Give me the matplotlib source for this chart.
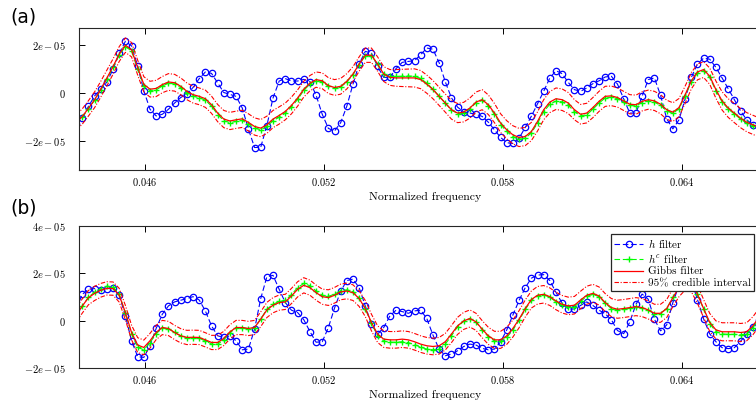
"""
Two-panel comparison of filter estimates vs. normalized frequency
(h filter, h^c filter, Gibbs filter and its 95% credible interval).

Values are kept in units of 1e-5 and scaled at plot time. All series share
the same regular frequency grid (one sample every ~2.06e-4).
"""

import numpy as np
import matplotlib
matplotlib.use("Agg")
import matplotlib.pyplot as plt

# ----------------------------------------------------------------------------
# Data (units of 1e-5)
# ----------------------------------------------------------------------------
SCALE = 1e-5
F_START = 0.043692
F_STEP = 0.0002062

# panel (a)
h_a = [
    -1.30,
    -1.04, -0.57, -0.13, 0.15, 0.45, 0.99, 1.65, 2.15, 1.96, 1.12,
    0.08, -0.69, -0.97, -0.90, -0.69, -0.43, -0.20, -0.04, 0.22, 0.59,
    0.87, 0.81, 0.41, 0.01, -0.07, -0.15, -0.64, -1.52, -2.29, -2.28,
    -1.37, -0.22, 0.49, 0.59, 0.49, 0.49, 0.56, 0.46, -0.10, -0.90,
    -1.49, -1.60, -1.25, -0.56, 0.36, 1.20, 1.73, 1.66, 1.10, 0.64,
    0.64, 1.01, 1.27, 1.31, 1.34, 1.59, 1.87, 1.82, 1.26, 0.46,
    -0.21, -0.60, -0.81, -0.85, -0.90, -0.99, -1.23, -1.55, -1.87, -2.09,
    -2.12, -1.90, -1.45, -0.98, -0.46, 0.06, 0.62, 0.92, 0.80, 0.43,
    0.13, 0.06, 0.20, 0.38, 0.50, 0.66, 0.69, 0.36, -0.25, -0.85,
    -0.85, -0.15, 0.55, 0.62, -0.11, -1.09, -1.51, -1.13, -0.25, 0.64,
    1.20, 1.45, 1.40, 1.06, 0.62, 0.17, -0.29, -0.76, -1.13, -1.34, -1.45]
hc_a = [
    -1.28,
    -1.02, -0.68, -0.31, 0.12, 0.58, 1.06, 1.58, 1.93, 1.75, 0.98,
    0.28, 0.09, 0.12, 0.28, 0.40, 0.37, 0.21, 0.00, -0.14, -0.21,
    -0.31, -0.56, -0.91, -1.17, -1.25, -1.20, -1.16, -1.30, -1.48, -1.55,
    -1.41, -1.17, -1.02, -0.85, -0.59, -0.28, 0.10, 0.36, 0.51, 0.46,
    0.27, 0.18, 0.24, 0.45, 0.76, 1.18, 1.55, 1.55, 1.19, 0.79,
    0.68, 0.68, 0.69, 0.70, 0.69, 0.60, 0.40, 0.15, -0.14, -0.43,
    -0.72, -0.87, -0.84, -0.67, -0.42, -0.32, -0.54, -0.90, -1.33, -1.62,
    -1.83, -1.94, -1.90, -1.68, -1.27, -0.79, -0.48, -0.35, -0.38, -0.52,
    -0.79, -0.97, -0.92, -0.69, -0.43, -0.22, -0.19, -0.25, -0.39, -0.53,
    -0.55, -0.41, -0.34, -0.39, -0.53, -0.76, -0.86, -0.67, -0.13, 0.45,
    0.82, 0.92, 0.64, 0.08, -0.38, -0.68, -0.89, -1.10, -1.27, -1.38, -1.49]
gibbs_a = [
    -1.25,
    -0.99, -0.65, -0.29, 0.15, 0.62, 1.10, 1.62, 1.99, 1.80, 1.05,
    0.35, 0.15, 0.18, 0.34, 0.45, 0.42, 0.27, 0.06, -0.08, -0.15,
    -0.25, -0.50, -0.85, -1.10, -1.18, -1.13, -1.09, -1.24, -1.41, -1.48,
    -1.34, -1.10, -0.95, -0.78, -0.53, -0.22, 0.15, 0.40, 0.55, 0.50,
    0.30, 0.22, 0.27, 0.48, 0.78, 1.20, 1.57, 1.57, 1.20, 0.78,
    0.64, 0.62, 0.62, 0.62, 0.62, 0.55, 0.36, 0.13, -0.15, -0.43,
    -0.71, -0.85, -0.81, -0.64, -0.39, -0.29, -0.50, -0.85, -1.27, -1.55,
    -1.76, -1.87, -1.83, -1.62, -1.20, -0.71, -0.39, -0.25, -0.29, -0.43,
    -0.71, -0.90, -0.85, -0.62, -0.36, -0.15, -0.13, -0.20, -0.34, -0.48,
    -0.50, -0.36, -0.29, -0.34, -0.48, -0.71, -0.81, -0.62, -0.08, 0.50,
    0.87, 0.97, 0.69, 0.13, -0.34, -0.64, -0.85, -1.06, -1.23, -1.34, -1.45]
ci_half_a = [
    0.32,
    0.32, 0.32, 0.33, 0.33, 0.33, 0.32, 0.31, 0.30, 0.30, 0.31,
    0.32, 0.33, 0.34, 0.34, 0.35, 0.35, 0.35, 0.35, 0.35, 0.35,
    0.36, 0.36, 0.36, 0.36, 0.36, 0.36, 0.36, 0.36, 0.36, 0.36,
    0.36, 0.36, 0.36, 0.35, 0.35, 0.34, 0.33, 0.32, 0.32, 0.33,
    0.33, 0.33, 0.33, 0.32, 0.31, 0.30, 0.30, 0.30, 0.30, 0.31,
    0.33, 0.35, 0.36, 0.37, 0.38, 0.38, 0.38, 0.38, 0.38, 0.38,
    0.39, 0.40, 0.41, 0.42, 0.42, 0.42, 0.41, 0.40, 0.39, 0.38,
    0.38, 0.38, 0.38, 0.38, 0.40, 0.42, 0.44, 0.45, 0.45, 0.44,
    0.42, 0.41, 0.41, 0.42, 0.42, 0.42, 0.41, 0.40, 0.40, 0.40,
    0.40, 0.40, 0.40, 0.40, 0.40, 0.40, 0.39, 0.38, 0.36, 0.34,
    0.33, 0.33, 0.34, 0.36, 0.38, 0.39, 0.40, 0.40, 0.40, 0.40, 0.40]

# panel (b)
h_b = [
    0.50,
    1.12, 1.33, 1.36, 1.29, 1.36, 1.40, 1.08, 0.21, -0.84, -1.51,
    -1.54, -1.05, -0.32, 0.28, 0.63, 0.80, 0.87, 0.94, 1.02, 0.88,
    0.42, -0.21, -0.63, -0.70, -0.63, -0.84, -1.22, -1.19, -0.35, 0.94,
    1.86, 1.92, 1.33, 0.77, 0.45, 0.35, 0.05, -0.45, -0.90, -0.88,
    -0.28, 0.54, 1.25, 1.70, 1.76, 1.40, 0.63, -0.14, -0.56, -0.28,
    0.21, 0.45, 0.39, 0.32, 0.42, 0.45, 0.10, -0.60, -1.19, -1.47,
    -1.40, -1.26, -1.08, -0.98, -1.02, -1.16, -1.22, -1.19, -0.88, -0.38,
    0.25, 0.86, 1.40, 1.80, 1.93, 1.95, 1.70, 1.20, 0.75, 0.50,
    0.50, 0.65, 0.80, 0.65, 0.45, 0.30, 0.05, -0.41, -0.54, -0.05,
    0.70, 1.13, 0.91, 0.07, -0.42, -0.17, 0.77, 1.50, 1.85, 1.70,
    0.90, 0.08, -0.55, -0.88, -1.13, -1.17, -1.13, -0.86, -0.56, -0.25, 0.05]
hc_b = [
    0.22,
    0.62, 1.00, 1.21, 1.36, 1.45, 1.44, 1.12, 0.33, -0.55, -1.12,
    -1.22, -0.92, -0.54, -0.31, -0.33, -0.49, -0.63, -0.71, -0.71, -0.73,
    -0.85, -0.97, -0.98, -0.80, -0.50, -0.30, -0.29, -0.33, -0.29, 0.08,
    0.49, 0.70, 0.82, 0.86, 1.11, 1.40, 1.58, 1.48, 1.26, 1.08,
    1.03, 1.13, 1.27, 1.31, 1.23, 0.97, 0.52, -0.10, -0.62, -0.85,
    -0.90, -0.90, -0.88, -0.92, -1.00, -1.11, -1.19, -1.22, -1.18, -0.98,
    -0.63, -0.25, -0.02, 0.09, -0.05, -0.37, -0.67, -0.85, -0.86, -0.70,
    -0.38, 0.02, 0.48, 0.87, 1.06, 1.10, 1.00, 0.80, 0.65, 0.57,
    0.60, 0.82, 1.03, 1.12, 1.02, 0.74, 0.52, 0.45, 0.48, 0.53,
    0.57, 0.54, 0.44, 0.30, 0.31, 0.52, 0.99, 1.42, 1.70, 1.62,
    1.12, 0.50, -0.12, -0.45, -0.55, -0.57, -0.57, -0.59, -0.55, -0.29, 0.08]
gibbs_b = [
    0.25,
    0.63, 0.98, 1.16, 1.29, 1.37, 1.36, 1.08, 0.35, -0.49, -1.02,
    -1.12, -0.84, -0.49, -0.28, -0.32, -0.49, -0.63, -0.70, -0.69, -0.70,
    -0.80, -0.91, -0.91, -0.74, -0.46, -0.28, -0.28, -0.32, -0.28, 0.07,
    0.46, 0.66, 0.77, 0.80, 1.05, 1.33, 1.50, 1.40, 1.19, 1.02,
    0.98, 1.08, 1.22, 1.26, 1.19, 0.94, 0.52, -0.07, -0.56, -0.77,
    -0.80, -0.80, -0.77, -0.80, -0.88, -0.98, -1.05, -1.08, -1.05, -0.88,
    -0.56, -0.21, 0.00, 0.10, -0.04, -0.35, -0.63, -0.80, -0.80, -0.63,
    -0.32, 0.07, 0.52, 0.90, 1.08, 1.12, 1.02, 0.84, 0.70, 0.63,
    0.66, 0.88, 1.08, 1.16, 1.05, 0.77, 0.56, 0.49, 0.52, 0.56,
    0.60, 0.56, 0.46, 0.32, 0.32, 0.52, 0.98, 1.40, 1.68, 1.61,
    1.12, 0.52, -0.07, -0.38, -0.46, -0.46, -0.46, -0.49, -0.46, -0.21, 0.14]
ci_half_b = [
    0.30,
    0.30, 0.30, 0.30, 0.29, 0.28, 0.28, 0.29, 0.30, 0.31, 0.31,
    0.31, 0.31, 0.30, 0.30, 0.30, 0.30, 0.30, 0.30, 0.30, 0.30,
    0.30, 0.30, 0.30, 0.30, 0.30, 0.30, 0.30, 0.30, 0.30, 0.31,
    0.32, 0.32, 0.32, 0.32, 0.32, 0.32, 0.32, 0.32, 0.32, 0.32,
    0.33, 0.33, 0.33, 0.33, 0.33, 0.33, 0.34, 0.35, 0.35, 0.35,
    0.35, 0.35, 0.35, 0.35, 0.35, 0.35, 0.35, 0.35, 0.35, 0.35,
    0.36, 0.36, 0.36, 0.36, 0.36, 0.36, 0.36, 0.36, 0.36, 0.36,
    0.36, 0.36, 0.36, 0.36, 0.37, 0.37, 0.37, 0.37, 0.37, 0.37,
    0.37, 0.37, 0.38, 0.38, 0.38, 0.38, 0.38, 0.38, 0.38, 0.38,
    0.38, 0.38, 0.38, 0.38, 0.38, 0.38, 0.38, 0.38, 0.38, 0.38,
    0.38, 0.38, 0.38, 0.38, 0.38, 0.38, 0.38, 0.38, 0.38, 0.38, 0.38]

x_ticks = [0.046, 0.052, 0.058, 0.064]
x_ticklabels = [r"$0.046$", r"$0.052$", r"$0.058$", r"$0.064$"]
y_ticks_a = [-2e-5, 0, 2e-5]
y_ticklabels_a = [r"$-2e-05$", r"$0$", r"$2e-05$"]
y_ticks_b = [-2e-5, 0, 2e-5, 4e-5]
y_ticklabels_b = [r"$-2e-05$", r"$0$", r"$2e-05$", r"$4e-05$"]
legend_labels = [r"$h$ filter", r"$h^c$ filter", "Gibbs filter",
                 "95% credible interval"]

# ----------------------------------------------------------------------------
# Style / layout
# ----------------------------------------------------------------------------
plt.rcParams.update({
    "font.family": "serif",
    "font.serif": ["cmr10"],
    "mathtext.fontset": "cm",
    "axes.formatter.use_mathtext": True,
    "axes.unicode_minus": False,
})

W, H = 756, 401
XLIM = (0.0438, 0.0670)
# axes run past the right figure edge (the original is cropped there)
AX_LEFT, AX_RIGHT = 79.4 / W, 771.5 / W


def panel(ax, h, hc, gibbs, half, yticks, ylabels, ylim):
    n = len(gibbs)
    for s in (h, hc, half):
        assert len(s) == n, (len(s), n)
    freq = F_START + F_STEP * np.arange(n)
    g = np.array(gibbs) * SCALE
    hw = np.array(half) * SCALE

    l1, = ax.plot(freq, np.array(h) * SCALE, ls="--", color="#0000ff", lw=0.8,
                  marker="o", ms=4.6, mfc="none", mec="#0000ff", mew=0.9,
                  dashes=(5, 2.5))
    l2, = ax.plot(freq, np.array(hc) * SCALE, ls="--", color="#00ff00", lw=0.8,
                  marker="+", ms=5, mew=1.0, dashes=(5, 2.5))
    l3, = ax.plot(freq, g, color="#ff0000", lw=0.9)
    l4, = ax.plot(freq, g + hw, color="#ff0000", lw=0.8, ls="-.",
                  dashes=(4, 1.5, 1, 1.5))
    ax.plot(freq, g - hw, color="#ff0000", lw=0.8, ls="-.",
            dashes=(4, 1.5, 1, 1.5))

    ax.set_xlim(*XLIM)
    ax.set_ylim(*ylim)
    ax.set_xticks(x_ticks)
    ax.set_xticklabels(x_ticklabels)
    ax.set_yticks(yticks)
    ax.set_yticklabels(ylabels)
    ax.tick_params(axis="x", direction="in", length=4.5, width=0.7,
                   top=True, labelsize=7.5, pad=4)
    ax.tick_params(axis="y", direction="in", length=4.5, width=0.7,
                   right=False, labelsize=7.5, pad=10)
    for sp in ax.spines.values():
        sp.set_linewidth(0.8)
        sp.set_color("0.15")
    ax.set_xlabel("Normalized frequency", fontsize=8.5, labelpad=3)
    return [l1, l2, l3, l4]


def main():
    fig = plt.figure(figsize=(W / 100, H / 100), dpi=100)

    ax_a = fig.add_axes([AX_LEFT, 1 - 170 / H, AX_RIGHT - AX_LEFT, 142.3 / H])
    panel(ax_a, h_a, hc_a, gibbs_a, ci_half_a, y_ticks_a, y_ticklabels_a,
          (-3.23e-5, 2.72e-5))

    ax_b = fig.add_axes([AX_LEFT, 1 - 368.3 / H, AX_RIGHT - AX_LEFT, 142.3 / H])
    handles = panel(ax_b, h_b, hc_b, gibbs_b, ci_half_b, y_ticks_b,
                    y_ticklabels_b, (-2e-5, 4e-5))

    leg = ax_b.legend(handles, legend_labels, loc="upper right",
                      bbox_to_anchor=(754 / W, 1 - 234 / H),
                      bbox_transform=fig.transFigure, borderaxespad=0,
                      fontsize=8, numpoints=1, handlelength=2.6,
                      handletextpad=0.4, labelspacing=0.15, borderpad=0.3,
                      fancybox=False, framealpha=1, edgecolor="0.15")
    leg.get_frame().set_linewidth(0.9)

    fig.text(10 / W, 1 - 17 / H, "(a)", family="DejaVu Sans", fontsize=13.5,
             va="center", ha="left")
    fig.text(10 / W, 1 - 208 / H, "(b)", family="DejaVu Sans", fontsize=13.5,
             va="center", ha="left")

    fig.savefig("out.png", dpi=100)
    plt.close(fig)


if __name__ == "__main__":
    main()
